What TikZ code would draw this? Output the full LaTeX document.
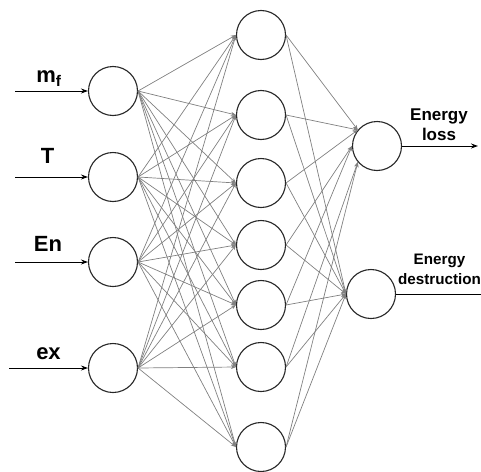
\documentclass[tikz,border=0pt]{standalone}
\usepackage{fontspec}
\setmainfont{Liberation Sans}
\usetikzlibrary{positioning,arrows.meta}

\begin{document}
\begin{tikzpicture}[
    x=1pt, y=-1pt,
    neuron/.style={draw=black!85, circle, line width=1.1pt,
                   minimum size=49pt, inner sep=0pt},
    link/.style={-{Stealth[length=5pt,width=4pt]}, draw=black!50, line width=0.7pt},
    arrow/.style={-{Stealth[length=7pt,width=5pt]}, line width=1pt},
    inlabel/.style={font=\fontsize{22}{24}\selectfont\bfseries, anchor=base},
    outlabel/.style={font=\fontsize{17}{19.5}\selectfont\bfseries,
                     align=center, inner sep=0pt}
  ]
    \useasboundingbox (0,0) rectangle (481,471);

    % Input layer
    \node[neuron] (in1) at (113,91) {};
    \node[neuron] (in2) at (113,177) {};
    \node[neuron] (in3) at (113,262) {};
    \node[neuron] (in4) at (113,368) {};
    \node[inlabel] (lmf) at (49,82) {m\textsubscript{f}};
    \node[inlabel] (lt) at (47.5,163) {T};
    \node[inlabel] (len) at (48,251) {En};
    \node[inlabel] (lex) at (48.5,359) {ex};
    \coordinate (src1) at (15,91);
    \coordinate (src2) at (15,177);
    \coordinate (src3) at (15,262);
    \coordinate (src4) at (9,368);
    \foreach \i in {1,...,4}
      \draw[arrow] (src\i) -- (in\i);

    % Hidden layer
    \node[neuron] (hid1) at (261,35) {};
    \node[neuron] (hid2) at (261,115) {};
    \node[neuron] (hid3) at (261,183) {};
    \node[neuron] (hid4) at (261,245) {};
    \node[neuron] (hid5) at (261,305) {};
    \node[neuron] (hid6) at (261,367) {};
    \node[neuron] (hid7) at (261,447) {};

    % Output layer
    \node[neuron] (out1) at (377,146) {};
    \node[neuron] (out2) at (371,294) {};
    \node[outlabel] (lloss) at (439,124.5) {Energy\\loss};
    \node[outlabel, font=\fontsize{15.2}{19.5}\selectfont\bfseries]
      (ldest) at (439.5,269.5) {Energy\\destruction};
    \coordinate (dst1) at (478,146);
    \coordinate (dst2) at (490,294);
    \draw[arrow] (out1) -- (dst1);
    \draw[arrow] (out2) -- (dst2);

    % Connections
    \foreach \i in {1,...,4}
      \foreach \j in {1,...,7}
        \draw[link] (in\i.east) -- (hid\j.west);
    \foreach \j/\a in {1/140,2/140,3/140,4/180,5/180,6/220,7/220}
      \draw[link] (hid\j.east) -- (out1.\a);
    \foreach \j in {1,...,7}
      \draw[link] (hid\j.east) -- (out2.west);
\end{tikzpicture}
\end{document}
